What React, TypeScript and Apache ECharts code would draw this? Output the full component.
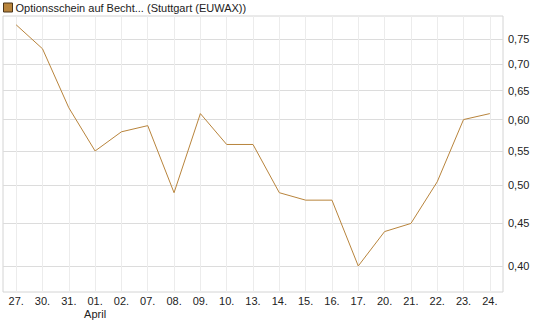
import React, { useEffect, useRef } from "react";
import * as echarts from "echarts";

const categories = ["27.", "30.", "31.", "01.", "02.", "07.", "08.", "09.", "10.", "13.", "14.", "15.", "16.", "17.", "20.", "21.", "22.", "23.", "24."];
const values = [0.78, 0.73, 0.62, 0.55, 0.58, 0.59, 0.49, 0.61, 0.56, 0.56, 0.49, 0.48, 0.48, 0.40, 0.44, 0.45, 0.505, 0.60, 0.61];
const yTicks = [0.40, 0.45, 0.50, 0.55, 0.60, 0.65, 0.70, 0.75];
const yMin = 0.3722;
const yMax = 0.7993;
const seriesName = "Optionsschein auf Becht... (Stuttgart (EUWAX))";
const monthLabel: Record<string, string> = { "01.": "April" };

export default function App() {
  const ref = useRef<HTMLDivElement>(null);
  useEffect(() => {
    if (!ref.current) return;
    const chart = echarts.init(ref.current, undefined, { renderer: "svg" });
    const font = "Liberation Sans, Arial, sans-serif";
    chart.setOption({
      animation: false,
      backgroundColor: "#ffffff",
      textStyle: { fontFamily: font },
      legend: {
        left: 0,
        top: 2,
        icon: "rect",
        itemWidth: 9,
        itemHeight: 9,
        itemGap: 5,
        padding: [0, 0, 0, 3],
        textStyle: { fontSize: 11, color: "#222", fontFamily: font, padding: [0, 0, 0, -2] },
        data: [{ name: seriesName, itemStyle: { color: "#b8843c", borderColor: "#4a3418", borderWidth: 1 } }],
      },
      grid: {
        left: 3,
        right: 42,
        top: 16,
        bottom: 35,
        show: true,
        borderColor: "#d4d4d4",
        borderWidth: 1,
      },
      xAxis: {
        type: "category",
        data: categories,
        boundaryGap: true,
        axisLine: { show: false },
        axisTick: { show: false, alignWithLabel: true },
        splitLine: { show: true, alignWithLabel: true, lineStyle: { color: "#ececec", width: 1 } },
        axisLabel: {
          fontSize: 11,
          color: "#222",
          fontFamily: font,
          margin: 2,
          lineHeight: 13,
          interval: 0,
          formatter: (v: string) => (monthLabel[v] ? v + "\n" + monthLabel[v] : v),
        },
      },
      yAxis: {
        type: "value",
        position: "right",
        min: Math.log(yMin),
        max: Math.log(yMax),
        axisLine: { show: false },
        axisTick: { show: false, customValues: yTicks.map((t) => Math.log(t)) },
        splitLine: { show: true, lineStyle: { color: "#dcdcdc", width: 1 } },
        axisLabel: {
          fontSize: 11,
          color: "#222",
          fontFamily: font,
          margin: 5,
          customValues: yTicks.map((t) => Math.log(t)),
          formatter: (v: number) => Math.exp(v).toFixed(2).replace(".", ","),
        },
      },
      series: [
        {
          name: seriesName,
          type: "line",
          data: values.map((v) => Math.log(v)),
          symbol: "none",
          lineStyle: { color: "#b8843c", width: 1 },
          itemStyle: { color: "#b8843c" },
        },
      ],
    });
    return () => chart.dispose();
  }, []);
  return <div ref={ref} style={{ width: 545, height: 327, position: "absolute", left: 0, top: 0 }} />;
}
